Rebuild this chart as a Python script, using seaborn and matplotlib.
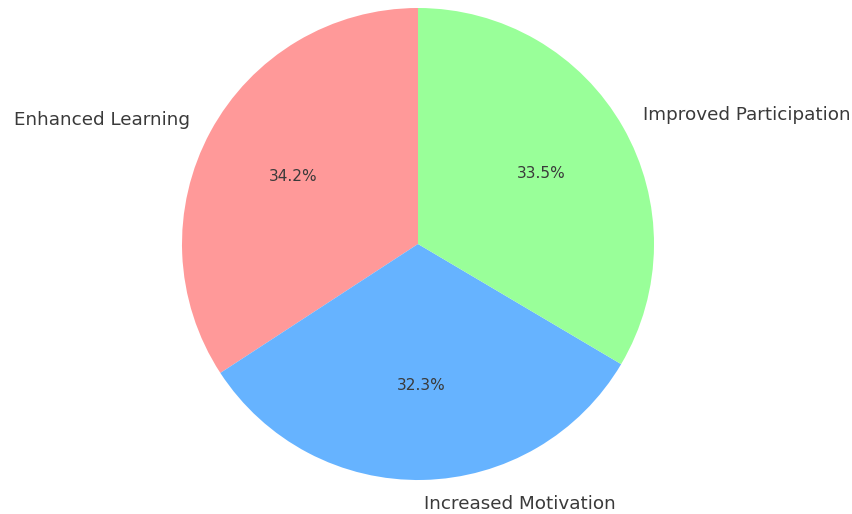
import matplotlib
matplotlib.use("Agg")
import matplotlib.pyplot as plt
import seaborn as sns

sns.set_theme(style="white")
plt.rcParams['font.family'] = ['DejaVu Sans']

labels = ["Enhanced Learning", "Increased Motivation", "Improved Participation"]
values = [34.2, 32.3, 33.5]
colors = ["#ff9999", "#66b3ff", "#99ff99"]

fig = plt.figure(figsize=(8.53, 5.14), dpi=100)
ax = fig.add_axes([0, 0, 1, 1])
wedges, texts, autotexts = ax.pie(values, labels=labels, colors=colors, startangle=90,
                                  autopct='%1.1f%%', textprops={'color': '#3a3a3a'},
                                  wedgeprops={'linewidth': 0, 'edgecolor': 'none'})
for t in texts:
    t.set_fontsize(13.2)
for t in autotexts:
    t.set_fontsize(11.1)
R = 236.0
ax.set_xlim(-418 / R, 435 / R)
ax.set_ylim(-270 / R, 244 / R)
ax.set_aspect('auto')
ax.axis('off')
fig.savefig("out.png", dpi=100)
